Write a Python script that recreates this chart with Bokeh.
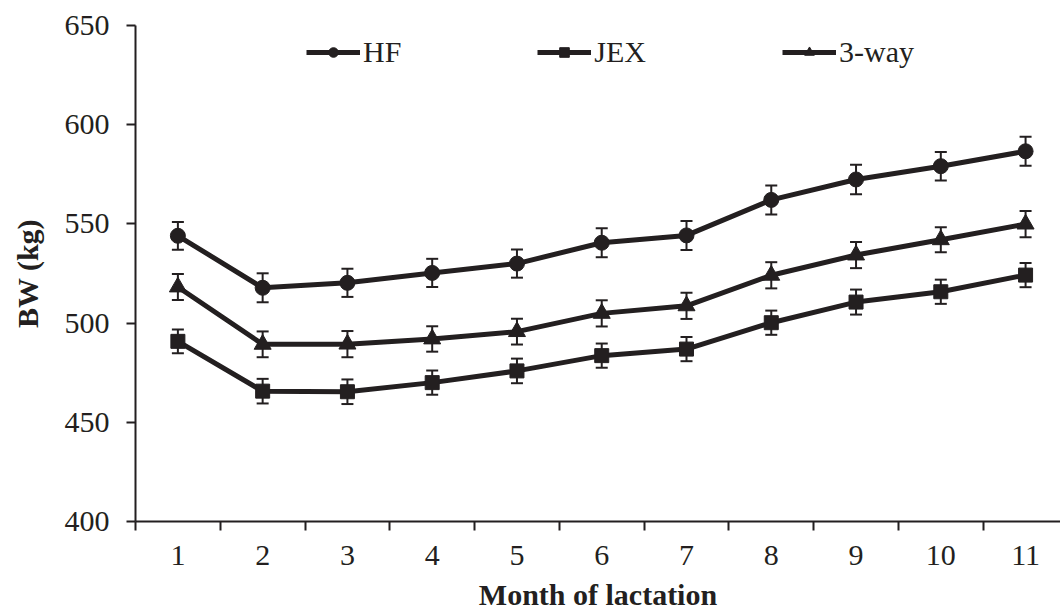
from bokeh.plotting import figure
from bokeh.models import ColumnDataSource, Whisker, TeeHead, FixedTicker, Legend, LegendItem
from bokeh.embed import file_html
from bokeh.resources import INLINE

months = [1, 2, 3, 4, 5, 6, 7, 8, 9, 10, 11]
month_labels = [str(m) for m in months]
hf = [544.0, 517.8, 520.3, 525.3, 530.0, 540.5, 544.2, 562.1, 572.4, 579.1, 586.6]
hf_err = [7.0, 7.3, 7.1, 7.1, 7.1, 7.3, 7.3, 7.3, 7.4, 7.2, 7.3]
jex = [490.8, 465.7, 465.4, 470.0, 475.9, 483.6, 486.9, 500.2, 510.6, 515.8, 524.2]
jex_err = [6.0, 6.2, 6.2, 6.1, 6.2, 6.1, 6.1, 6.1, 6.3, 6.1, 6.1]
three = [518.2, 489.3, 489.4, 492.0, 495.7, 504.9, 508.7, 524.1, 534.3, 542.0, 549.9]
three_err = [6.6, 6.5, 6.6, 6.4, 6.5, 6.6, 6.6, 6.6, 6.6, 6.3, 6.6]
y_ticks = [400, 450, 500, 550, 600, 650]

INK = "#231f20"
FONT = "Liberation Serif"

p = figure(width=1060, height=614, x_range=(0.5, 11.412), y_range=(400, 650),
           output_backend="svg", toolbar_location=None,
           min_border_left=135, min_border_right=0, min_border_top=25, min_border_bottom=93)
p.xgrid.visible = False
p.ygrid.visible = False
p.outline_line_color = None
p.background_fill_color = "white"
p.border_fill_color = "white"

series = [("HF", hf, hf_err, "circle", 15), ("JEX", jex, jex_err, "square", 14), ("3-way", three, three_err, "triangle", 17)]
items = []
for name, vals, errs, marker, size in series:
    src = ColumnDataSource(dict(x=months, y=vals,
                                lo=[v - e for v, e in zip(vals, errs)],
                                hi=[v + e for v, e in zip(vals, errs)]))
    w = Whisker(source=src, base="x", lower="lo", upper="hi", line_color=INK, line_width=2,
                upper_head=TeeHead(size=12, line_color=INK, line_width=2),
                lower_head=TeeHead(size=12, line_color=INK, line_width=2))
    p.add_layout(w)
    ln = p.line("x", "y", source=src, line_color=INK, line_width=5)
    sc = p.scatter("x", "y", source=src, marker=marker, size=size, fill_color=INK, line_color=INK)
    items.append(LegendItem(label=name, renderers=[ln, sc]))

legend = Legend(items=items, orientation="horizontal", location=(171, 452),
                label_text_font=FONT, label_text_font_size="30px", label_text_color=INK,
                glyph_width=54, glyph_height=24, label_standoff=3, spacing=136,
                padding=0, margin=0, border_line_color=None, background_fill_alpha=0)
p.add_layout(legend)

p.xaxis.ticker = FixedTicker(ticks=months, minor_ticks=[m - 0.5 for m in months] + [11.5])
p.xaxis.major_label_overrides = {m: l for m, l in zip(months, month_labels)}
p.xaxis.major_tick_out = 0
p.xaxis.major_tick_in = 0
p.xaxis.minor_tick_out = 9
p.xaxis.minor_tick_in = 0
p.xaxis.minor_tick_line_width = 2
p.xaxis.minor_tick_line_color = INK
p.xaxis.axis_label = "Month of lactation"
p.xaxis.major_label_standoff = 15

p.yaxis.ticker = FixedTicker(ticks=y_ticks)
p.yaxis.minor_tick_out = 0
p.yaxis.minor_tick_in = 0
p.yaxis.major_tick_out = 9
p.yaxis.major_tick_in = 0
p.yaxis.axis_label = "BW (kg)"
p.yaxis.major_label_standoff = 17

for ax in (p.xaxis, p.yaxis):
    ax.axis_line_color = INK
    ax.axis_line_width = 2
    ax.major_tick_line_color = INK
    ax.major_tick_line_width = 2
    ax.major_label_text_font = FONT
    ax.major_label_text_font_size = "30px"
    ax.major_label_text_color = INK
    ax.axis_label_text_font = FONT
    ax.axis_label_text_font_size = "30px"
    ax.axis_label_text_font_style = "bold"
    ax.axis_label_text_color = INK
p.xaxis.axis_label_standoff = 10
p.yaxis.axis_label_standoff = 18

open("out.html", "w").write(file_html(p, INLINE))
